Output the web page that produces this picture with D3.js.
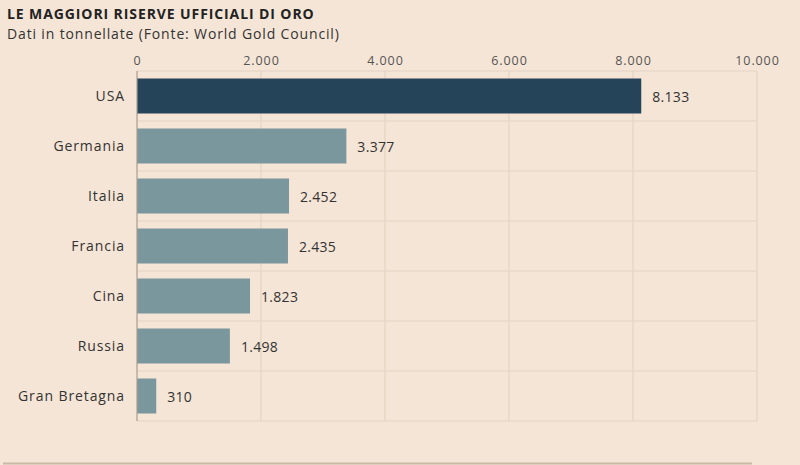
<!DOCTYPE html>
<html><head><meta charset="utf-8">
<script src="https://cdn.jsdelivr.net/npm/d3@7"></script>
<style>
body{margin:0;background:#f5e5d6;}
svg{display:block;font-family:"Open Sans",sans-serif;}
</style></head>
<body><svg id="c" width="800" height="465"></svg>
<script>
const categories = ["USA","Germania","Italia","Francia","Cina","Russia","Gran Bretagna"];
const values = [8133,3377,2452,2435,1823,1498,310];
const valueLabels = ["8.133","3.377","2.452","2.435","1.823","1.498","310"];
const tickValues = [0,2000,4000,6000,8000,10000];
const tickLabels = ["0","2.000","4.000","6.000","8.000","10.000"];

const svg = d3.select("#c");
svg.append("rect").attr("width",800).attr("height",465).attr("fill","#f5e5d6");

svg.append("text").attr("x",7).attr("y",19).attr("font-size",14).attr("font-weight","bold")
  .attr("letter-spacing",0.9)
  .attr("fill","#222").text("LE MAGGIORI RISERVE UFFICIALI DI ORO");
svg.append("text").attr("x",7).attr("y",39).attr("font-size",14).attr("letter-spacing",0.85)
  .attr("fill","#333").text("Dati in tonnellate (Fonte: World Gold Council)");

const x = d3.scaleLinear().domain([0,10000]).range([137,757]);
const y = d3.scaleBand().domain(categories).range([71,421]).paddingInner(0.3).paddingOuter(0.15);

// horizontal grid lines
const hLines = d3.range(categories.length+1).map(i => 71 + i*50);
svg.append("g").selectAll("line").data(hLines).join("line")
  .attr("x1",137).attr("x2",757).attr("y1",d=>d).attr("y2",d=>d)
  .attr("stroke","#e2d3c5").attr("stroke-width",1.2);

// vertical grid
svg.append("g").selectAll("line").data(tickValues.slice(1)).join("line")
  .attr("x1",d=>x(d)).attr("x2",d=>x(d)).attr("y1",71).attr("y2",421)
  .attr("stroke","#e2d3c5").attr("stroke-width",1.2);

// axis
const axis = d3.axisTop(x).tickValues(tickValues).tickFormat((d,i)=>tickLabels[i]).tickSize(0).tickPadding(0);
const ag = svg.append("g").attr("transform","translate(0,65)").call(axis);
ag.select(".domain").remove();
ag.selectAll("text").attr("font-size",12.5).attr("fill","#555").attr("letter-spacing",0.9)
  .attr("font-family","Open Sans, sans-serif");

// bars
svg.append("g").selectAll("rect").data(values).join("rect")
  .attr("x",x(0)).attr("y",(d,i)=>y(categories[i]))
  .attr("width",d=>x(d)-x(0)).attr("height",y.bandwidth())
  .attr("fill",(d,i)=>i===0?"#254459":"#7a979d");

// left axis line
svg.append("line").attr("x1",137).attr("x2",137).attr("y1",71).attr("y2",421)
  .attr("stroke","#a89c90").attr("stroke-width",1.2);

// category labels
svg.append("g").selectAll("text").data(categories).join("text")
  .attr("x",125).attr("y",d=>y(d)+y.bandwidth()/2).attr("dy","0.35em")
  .attr("text-anchor","end").attr("font-size",14).attr("letter-spacing",0.9)
  .attr("fill","#333").text(d=>d);

// value labels
svg.append("g").selectAll("text").data(values).join("text")
  .attr("x",d=>x(d)+11).attr("y",(d,i)=>y(categories[i])+y.bandwidth()/2).attr("dy","0.4em")
  .attr("font-size",14).attr("letter-spacing",0.3).attr("fill","#333").text((d,i)=>valueLabels[i]);

// bottom rule
svg.append("line").attr("x1",3).attr("x2",752).attr("y1",463.5).attr("y2",463.5)
  .attr("stroke","#c9b8a6").attr("stroke-width",2);
</script></body></html>
